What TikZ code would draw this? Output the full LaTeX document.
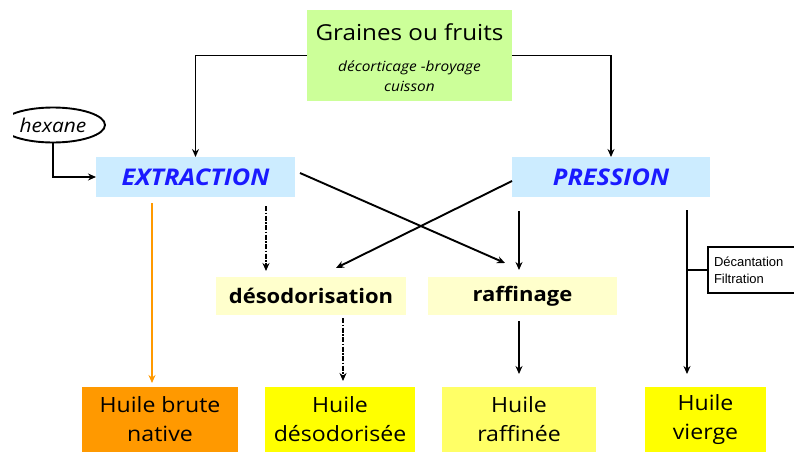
\documentclass[tikz,border=0pt]{standalone}
\usepackage{fontspec}
\setmainfont{Open Sans}[FakeStretch=1.1]
\newfontfamily\arialf{Liberation Sans}
\usetikzlibrary{arrows.meta,calc,shapes.geometric}
\definecolor{cgreen}{HTML}{CCFF99}
\definecolor{cblue}{HTML}{CCECFF}
\definecolor{clyel}{HTML}{FFFFCC}
\definecolor{corange}{HTML}{FF9900}
\definecolor{cyel}{HTML}{FFFF00}
\definecolor{cyel2}{HTML}{FFFF66}
\definecolor{ctxtblue}{HTML}{1A1AFF}
\tikzset{
  box/.style={inner sep=0pt,outer sep=0pt,align=center},
  arr/.style={draw=black,line width=1.9pt,-{Stealth[length=8pt,width=7pt]}},
  dashdot/.style={dash pattern=on 5pt off 1.5pt on 1.5pt off 1.5pt},
  proc/.style={box,fill=cblue,minimum height=40pt,text=ctxtblue,font=\fontsize{23}{26}\selectfont\bfseries\itshape},
  step2/.style={box,fill=clyel,minimum height=38pt,font=\fontsize{20}{22}\selectfont\bfseries},
  oil/.style={box,minimum height=65pt,font=\fontsize{21}{29}\selectfont},
}
\begin{document}
\begin{tikzpicture}[x=1pt,y=-1pt]
\clip (0,0) rectangle (794,452);
\fill[white] (0,0) rectangle (794,452);
% top box
\node[box,fill=cgreen,minimum width=205pt,minimum height=91pt] (graines) at (409.5,55.5) {};
\node[box,font=\fontsize{22}{24}\selectfont] (gt) at (409.5,32) {Graines ou fruits};
\node[box,font=\fontsize{14}{20}\selectfont\itshape] (gs) at (409.5,76) {décorticage -broyage\\cuisson};
% process boxes
\node[proc,minimum width=199pt] (extraction) at (195.5,177) {EXTRACTION};
\node[proc,minimum width=198pt] (pression) at (611,177) {PRESSION};
% hexane
\begin{scope}
\clip (13,90) rectangle (130,160);
\node[draw,ellipse,line width=1.9pt,minimum width=104pt,minimum height=35pt,inner sep=0pt,font=\fontsize{19}{20}\selectfont\itshape] (hexane) at (53,125) {hexane};
\end{scope}
% middle steps
\node[step2,minimum width=190pt] (desodo) at (311,296) {désodorisation};
\node[step2,minimum width=189pt] (raff) at (522.5,296) {raffinage};
% oils
\node[oil,fill=corange,minimum width=156pt] (brute) at (160,419.5) {Huile brute\\native};
\node[oil,fill=cyel,minimum width=150pt] (hdes) at (340,419.5) {Huile\\désodorisée};
\node[oil,fill=cyel2,minimum width=154pt] (hraf) at (519,419.5) {Huile\\raffinée};
\node[oil,fill=cyel,minimum width=121pt] (vierge) at (705.5,419.5) {Huile\\vierge};
% decantation box
\node[draw,line width=1.9pt,inner sep=0pt,minimum width=92pt,minimum height=46pt,text width=80pt,align=left,font=\arialf\fontsize{13}{17}\selectfont] (decant) at (754,270) {Décantation\\Filtration};
% connectors
\draw[arr] (graines.west) -| (extraction.north);
\draw[arr] (graines.east) -| (pression.north);
\draw[arr] (hexane.south) |- (extraction.west);
\coordinate (o1) at (152,203);
\draw[arr,draw=corange,-{Stealth[length=8pt,width=7pt,fill=corange]},color=corange] (o1) -- ([yshift=4pt]o1 |- brute.north);
\coordinate (d1) at (266,206);
\draw[arr,dashdot] (d1) -- ([yshift=6pt]d1 |- desodo.north);
\coordinate (x1) at (300,173);
\coordinate (x1e) at (505,263);
\draw[arr] (x1) -- (x1e);
\coordinate (x2) at (512,181);
\coordinate (x2e) at (336,268);
\draw[arr] (x2) -- (x2e);
\coordinate (p1) at (519,211);
\draw[arr] (p1) -- ([yshift=7pt]p1 |- raff.north);
\coordinate (r1) at (519,321);
\draw[arr] (r1) -- ([yshift=13pt]r1 |- hraf.north);
\coordinate (d2) at (343,318);
\draw[arr,dashdot] (d2) -- ([yshift=6pt]d2 |- hdes.north);
\coordinate (v1) at (687,210);
\draw[arr,line width=2.8pt] (v1) -- ([yshift=13pt]v1 |- vierge.north);
\coordinate (v2) at (687,270);
\draw[line width=1.9pt] (v2) -- (decant.west);
\end{tikzpicture}
\end{document}
